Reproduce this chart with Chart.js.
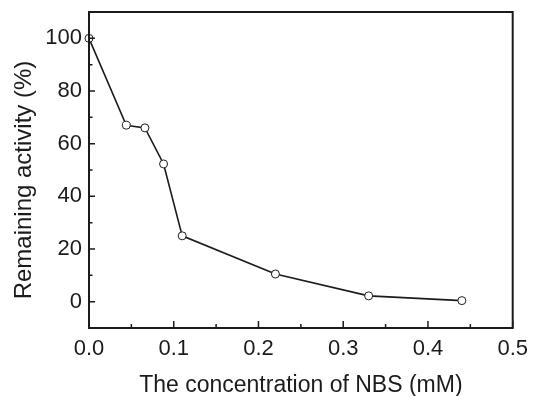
<!DOCTYPE html>
<html>
<head>
<meta charset="utf-8">
<script src="https://cdn.jsdelivr.net/npm/chart.js@4.4.0/dist/chart.umd.min.js"></script>
<style>
  html, body { margin: 0; padding: 0; background: #fff; }
  #wrap { width: 536px; height: 396px; }
</style>
</head>
<body>
<div id="wrap"><canvas id="chart" width="536" height="396"></canvas></div>
<script>
// NBS concentration (mM) and remaining activity (%)
const concentration = [0, 0.044, 0.066, 0.088, 0.11, 0.22, 0.33, 0.44];
const activity = [100, 67, 66, 52.3, 25, 10.5, 2.2, 0.4];

// tick positions
const xMajorTicks = [0, 0.1, 0.2, 0.3, 0.4, 0.5];
const xMinorTicks = [0.05, 0.15, 0.25, 0.35, 0.45];
const yMajorTicks = [0, 20, 40, 60, 80, 100];
const yMinorTicks = [-10, 10, 30, 50, 70, 90, 110];

const ink = "#1b1b1b";
const fontFamily = "'Liberation Sans', Arial, sans-serif";

// frame + inward tick marks
const frameTicks = {
    id: "frameTicks",
    afterDraw(chart) {
        const ctx = chart.ctx;
        const a = chart.chartArea;
        const xs = chart.scales.x;
        const ys = chart.scales.y;
        ctx.save();
        ctx.strokeStyle = ink;
        ctx.lineWidth = 1.5;
        ctx.beginPath();
        xMajorTicks.forEach(v => {
            const px = xs.getPixelForValue(v);
            ctx.moveTo(px, a.bottom); ctx.lineTo(px, a.bottom - 7);
        });
        xMinorTicks.forEach(v => {
            const px = xs.getPixelForValue(v);
            ctx.moveTo(px, a.bottom); ctx.lineTo(px, a.bottom - 4);
        });
        yMajorTicks.forEach(v => {
            const py = ys.getPixelForValue(v);
            ctx.moveTo(a.left, py); ctx.lineTo(a.left + 6, py);
        });
        yMinorTicks.forEach(v => {
            const py = ys.getPixelForValue(v);
            ctx.moveTo(a.left, py); ctx.lineTo(a.left + 3.5, py);
        });
        ctx.stroke();
        ctx.lineWidth = 2;
        ctx.strokeRect(a.left, a.top, a.right - a.left, a.bottom - a.top);
        ctx.restore();
    }
};

const ctx = document.getElementById("chart").getContext("2d");

new Chart(ctx, {
    type: "line",
    data: {
        datasets: [{
            data: concentration.map((c, i) => ({ x: c, y: activity[i] })),
            borderColor: ink,
            borderWidth: 1.6,
            pointRadius: 4,
            pointBorderWidth: 1,
            pointBackgroundColor: "#fff",
            pointBorderColor: ink,
            tension: 0,
            clip: false
        }]
    },
    options: {
        responsive: false,
        animation: false,
        layout: { padding: { top: 12, right: 19, bottom: 0, left: 0 } },
        plugins: { legend: { display: false }, tooltip: { enabled: false } },
        scales: {
            x: {
                type: "linear",
                min: 0,
                max: 0.5,
                grid: { display: false, drawTicks: false },
                border: { display: false },
                afterFit: s => { s.height = 68; },
                afterBuildTicks: s => { s.ticks = xMajorTicks.map(v => ({ value: v })); },
                ticks: {
                    autoSkip: false,
                    maxRotation: 0,
                    padding: 8,
                    color: ink,
                    font: { family: fontFamily, size: 22 },
                    callback: v => v.toFixed(1)
                },
                title: {
                    display: true,
                    text: "The concentration of NBS (mM)",
                    color: ink,
                    font: { family: fontFamily, size: 23 },
                    padding: { top: 0, bottom: -3 }
                }
            },
            y: {
                min: -10,
                max: 110,
                grid: { display: false, drawTicks: false },
                border: { display: false },
                afterFit: s => {
                    s.width = 89;
                    s.paddingTop = 0;
                    s.paddingBottom = 0;
                },
                afterBuildTicks: s => { s.ticks = yMajorTicks.map(v => ({ value: v })); },
                ticks: {
                    autoSkip: false,
                    padding: 7,
                    color: ink,
                    font: { family: fontFamily, size: 22 }
                },
                title: {
                    display: true,
                    text: "Remaining activity (%)   ",
                    color: ink,
                    font: { family: fontFamily, size: 24 },
                    padding: { top: 10, bottom: 0 }
                }
            }
        }
    },
    plugins: [frameTicks]
});
</script>
</body>
</html>
